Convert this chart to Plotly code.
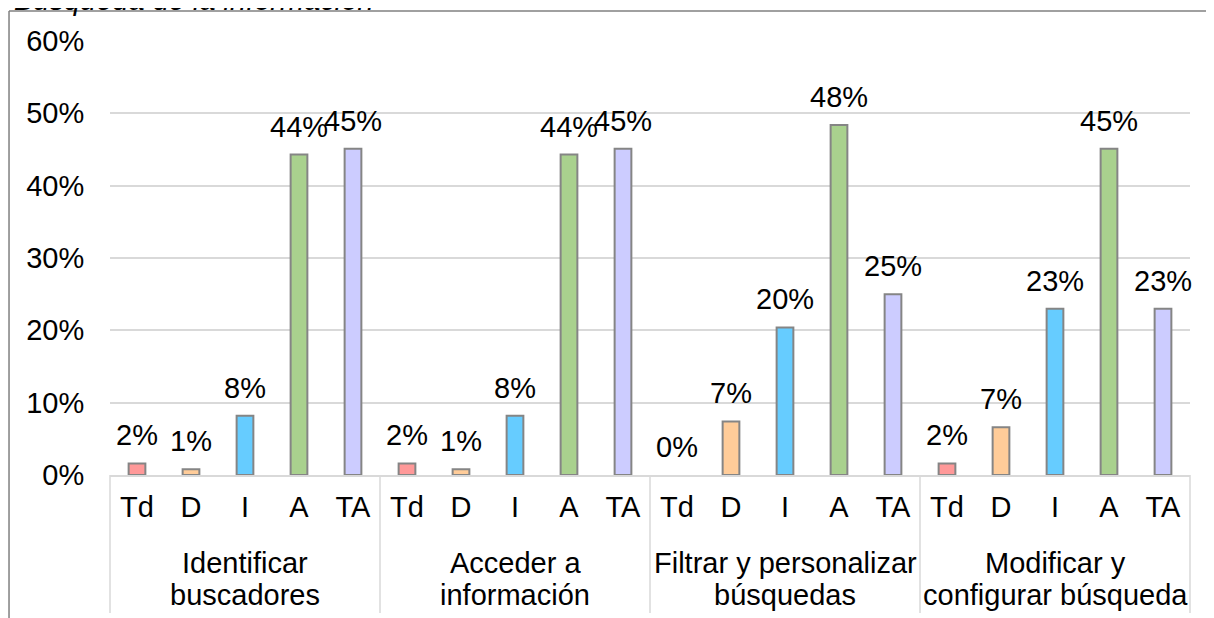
import plotly.graph_objects as go

# datos (porcentaje de respuestas)
grupos = [
    "Identificar\nbuscadores",
    "Acceder a\ninformación",
    "Filtrar y personalizar\nbúsquedas",
    "Modificar y\nconfigurar búsqueda",
]
niveles = ["Td", "D", "I", "A", "TA"]
colores = ["#FF9999", "#FFCC99", "#66CCFF", "#A9D18E", "#CCCCFF"]

td = [1.6, 1.6, 0.0, 1.6]
d = [0.8, 0.8, 7.4, 6.6]
i_ = [8.2, 8.2, 20.4, 23.0]
a = [44.3, 44.3, 48.4, 45.1]
ta = [45.1, 45.1, 25.0, 23.0]
valores = [td, d, i_, a, ta]

titulo = "Búsqueda de la información"
yticks = [0, 0.1, 0.2, 0.3, 0.4, 0.5, 0.6]

FONT = "Liberation Sans, Arial, sans-serif"
FS = 29
GRIS = "#D9D9D9"
n_g = len(grupos)
n_n = len(niveles)

fig = go.Figure()
anots = []

for k, nivel in enumerate(niveles):
    xs = [g * n_n + k for g in range(n_g)]
    ys = [v / 100 for v in valores[k]]
    # sin contorno para las barras en 0 (no se ven en el original)
    bordes = [2 if v > 0 else 0 for v in valores[k]]
    fig.add_trace(
        go.Bar(
            x=xs,
            y=ys,
            name=nivel,
            width=0.31,
            marker=dict(color=colores[k], line=dict(color="#858585", width=bordes)),
            showlegend=False,
        )
    )
    # etiquetas de datos
    for x, v in zip(xs, valores[k]):
        anots.append(dict(
            x=x, y=v / 100, xref="x", yref="y",
            text=f"{round(v)}%", showarrow=False,
            yanchor="bottom", yshift=10,
            font=dict(size=FS, color="black", family=FONT),
        ))

# nombres de los grupos (dos líneas)
for g, nombre in enumerate(grupos):
    for j, linea in enumerate(nombre.split("\n")):
        anots.append(dict(
            x=(g + 0.5) / n_g, y=0, xref="paper", yref="paper",
            text=linea, showarrow=False,
            xanchor="center", yanchor="middle", yshift=-88 - 32 * j,
            font=dict(size=FS, color="black", family=FONT),
        ))

# título cortado arriba
anots.append(dict(
    x=0, y=1, xref="paper", yref="paper", xanchor="left", yanchor="bottom",
    xshift=-98, yshift=23, text=f"<i>{titulo}</i>", showarrow=False,
    font=dict(size=FS, color="black", family=FONT),
))

shapes = []
# separadores entre grupos
for g in range(n_g + 1):
    shapes.append(dict(
        type="line", xref="paper", yref="paper",
        x0=g / n_g, x1=g / n_g, y0=0, y1=-0.318,
        line=dict(color=GRIS, width=1.5),
    ))
# marco del gráfico (izquierda y arriba)
shapes.append(dict(type="line", xref="paper", yref="paper",
                   x0=-0.0935, x1=-0.0935, y0=1.069, y1=-0.35,
                   line=dict(color="#808080", width=1.5)))
shapes.append(dict(type="line", xref="paper", yref="paper",
                   x0=-0.0935, x1=1.05, y0=1.069, y1=1.069,
                   line=dict(color="#808080", width=1.5)))

fig.update_layout(
    width=1206,
    height=610,
    barmode="overlay",
    plot_bgcolor="white",
    paper_bgcolor="white",
    margin=dict(l=102, r=24, t=33, b=143),
    font=dict(family=FONT, size=FS, color="black"),
    annotations=anots,
    shapes=shapes,
)

fig.update_xaxes(
    range=[-0.5, n_g * n_n - 0.5],
    tickvals=list(range(n_g * n_n)),
    ticktext=niveles * n_g,
    ticks="outside", ticklen=5, tickcolor="rgba(0,0,0,0)",
    showline=True, linecolor=GRIS, linewidth=1.5,
    showgrid=False, zeroline=False,
    tickfont=dict(size=FS, family=FONT),
)
fig.update_yaxes(
    range=[0, 0.6],
    tickvals=yticks,
    tickformat=".0%",
    ticks="outside", ticklen=19, tickcolor="rgba(0,0,0,0)",
    showgrid=True, gridcolor=GRIS, gridwidth=1.5,
    zeroline=False, showline=False,
    tickfont=dict(size=FS, family=FONT),
)

fig.write_html("out.html")
